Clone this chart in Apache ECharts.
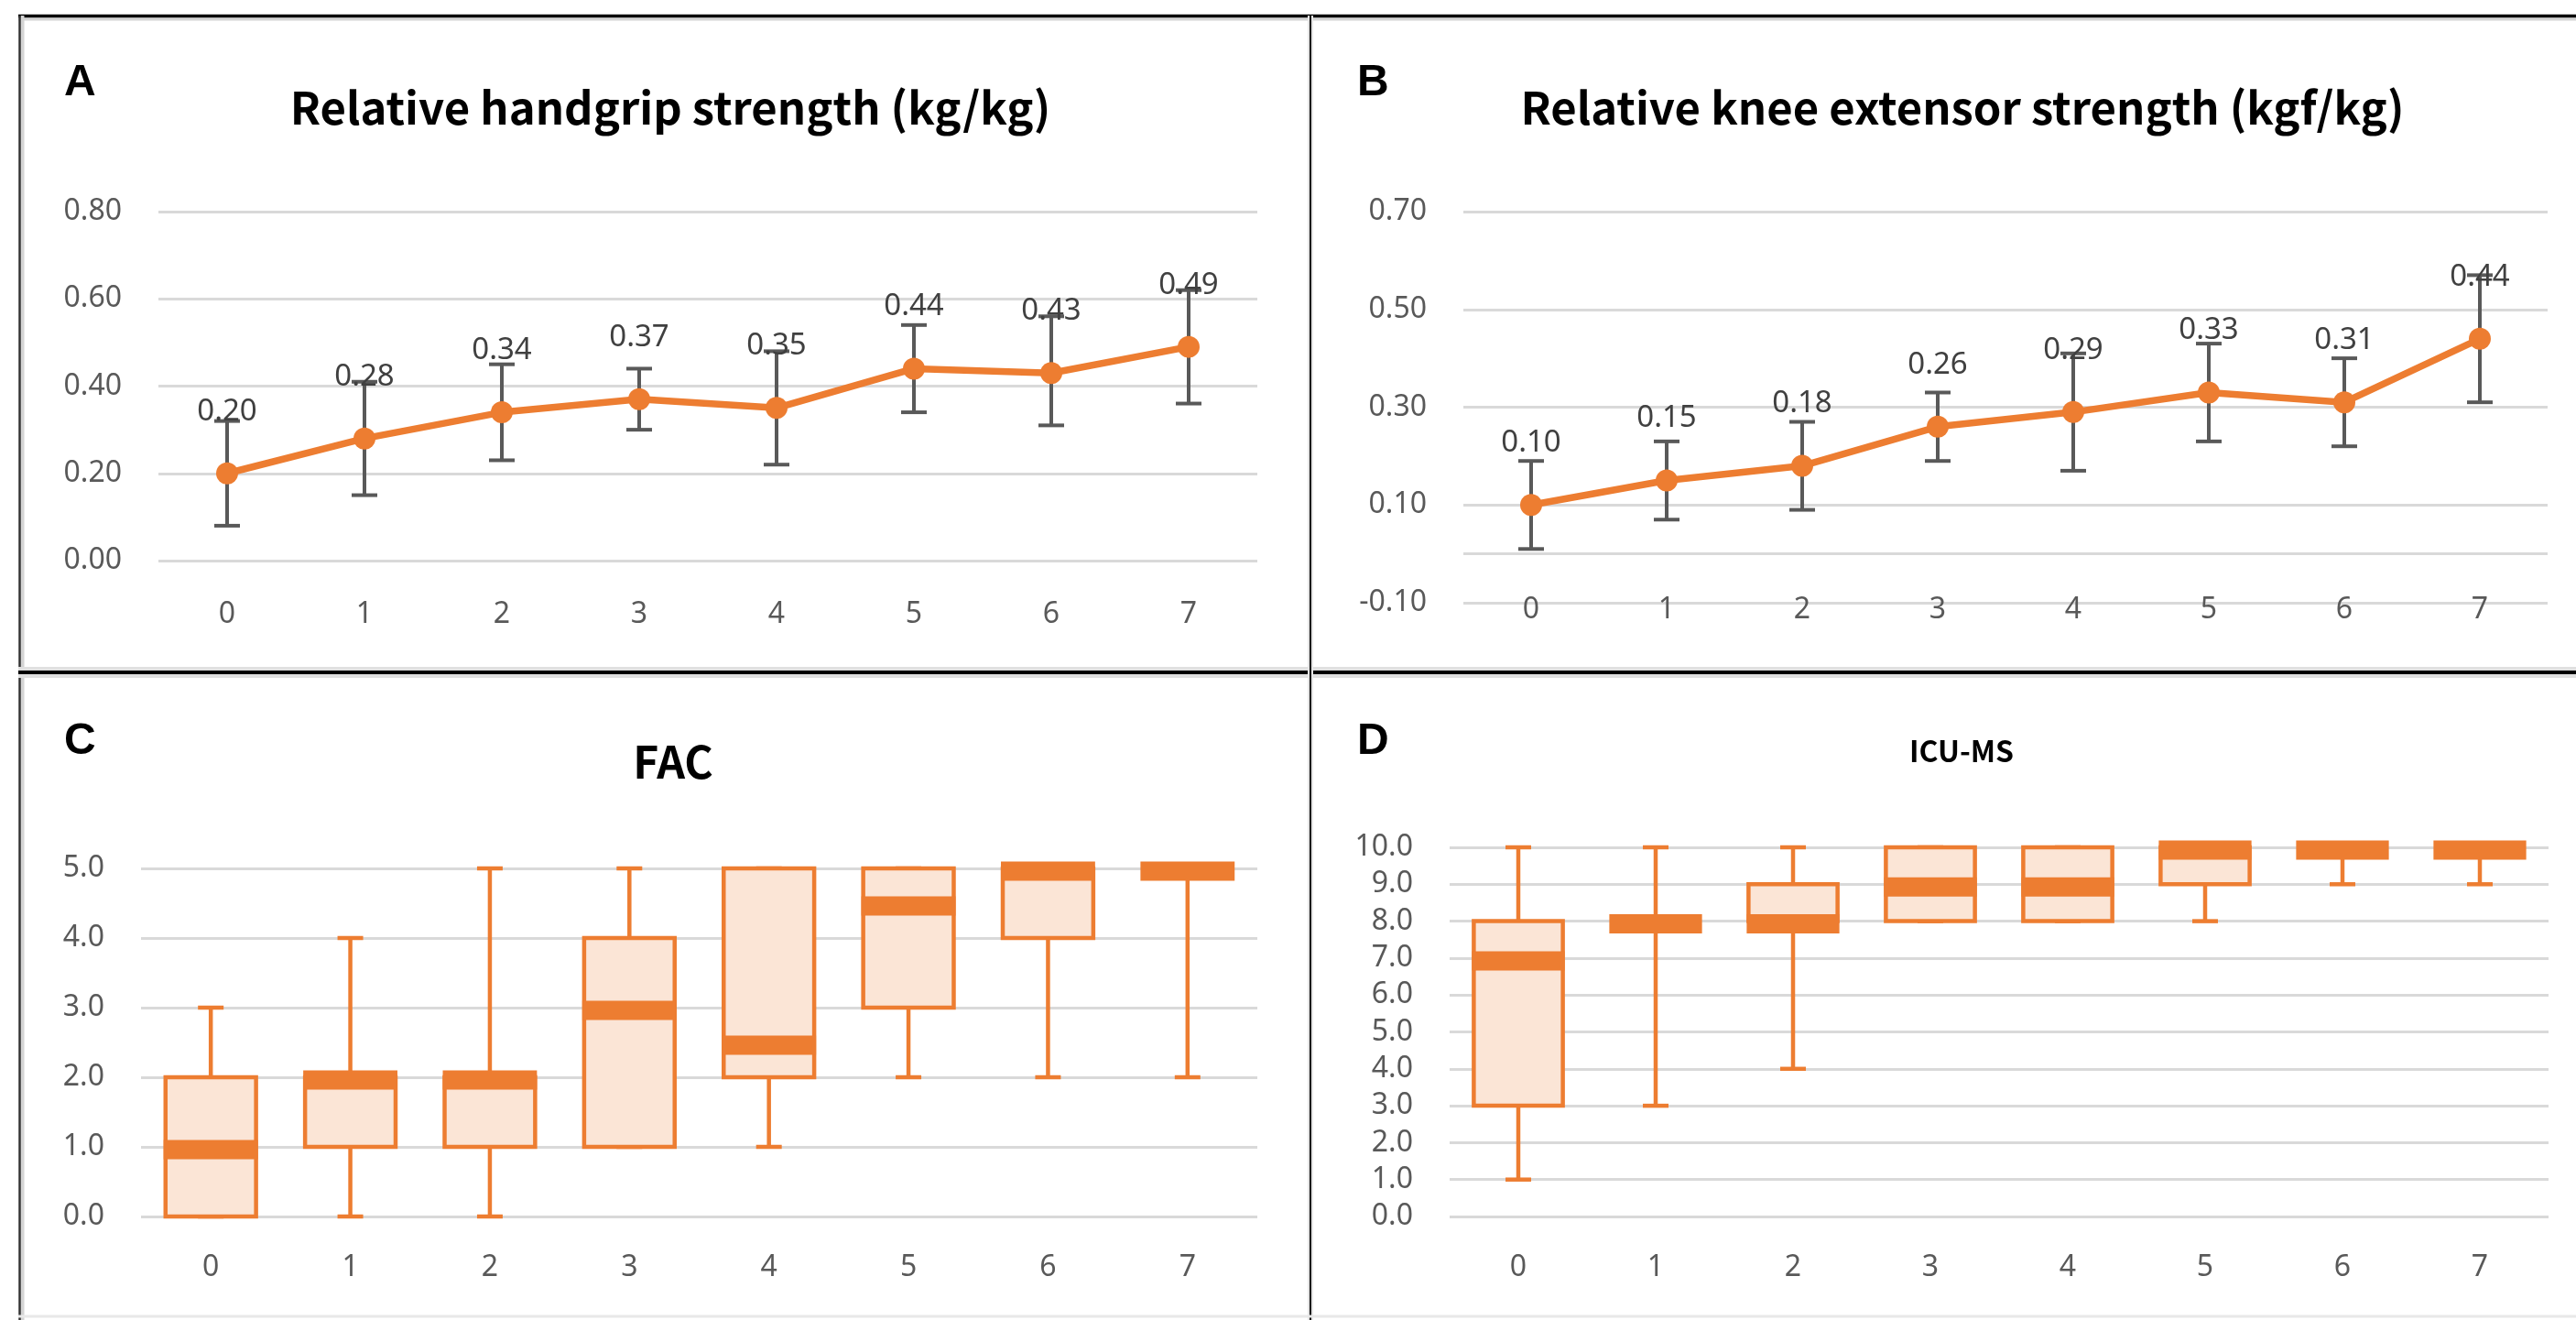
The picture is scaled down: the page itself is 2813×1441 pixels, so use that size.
<!DOCTYPE html>
<html>
<head>
<meta charset="utf-8">
<script src="https://cdn.jsdelivr.net/npm/echarts@6/dist/echarts.min.js"></script>
<style>
  html, body { margin: 0; padding: 0; background: #fff; }
  #chart { width: 2813px; height: 1441px; }
</style>
</head>
<body>
<div id="chart"></div>
<script>
// days after admission (shared category axis)
const days = ['0', '1', '2', '3', '4', '5', '6', '7'];

// A: relative handgrip strength, mean with SD bars
const gripMean = [0.20, 0.28, 0.34, 0.37, 0.35, 0.44, 0.43, 0.49];
const gripLow = [0.08, 0.15, 0.23, 0.30, 0.22, 0.34, 0.31, 0.36];
const gripHigh = [0.32, 0.41, 0.45, 0.44, 0.48, 0.54, 0.56, 0.62];

// B: relative knee extensor strength
const kneeMean = [0.10, 0.15, 0.18, 0.26, 0.29, 0.33, 0.31, 0.44];
const kneeLow = [0.01, 0.07, 0.09, 0.19, 0.17, 0.23, 0.22, 0.31];
const kneeHigh = [0.19, 0.23, 0.27, 0.33, 0.41, 0.43, 0.40, 0.57];

// C: FAC box plot
const facMin = [0, 0, 0, 1, 1, 2, 2, 2];
const facQ1 = [0, 1, 1, 1, 2, 3, 4, 5];
const facMed = [1, 2, 2, 3, 2.5, 4.5, 5, 5];
const facQ3 = [2, 2, 2, 4, 5, 5, 5, 5];
const facMax = [3, 4, 5, 5, 5, 5, 5, 5];

// D: ICU-MS box plot
const icuMin = [1, 3, 4, 8, 8, 8, 9, 9];
const icuQ1 = [3, 8, 8, 8, 8, 9, 10, 10];
const icuMed = [7, 8, 8, 9, 9, 10, 10, 10];
const icuQ3 = [8, 8, 9, 10, 10, 10, 10, 10];
const icuMax = [10, 10, 10, 10, 10, 10, 10, 10];

const ORANGE = '#ED7D31';
const PEACH = '#FBE5D6';
const GRID_GRAY = '#D9D9D9';
const TICK_FONT = 'Noto Sans';
const TITLE_FONT = 'Noto Sans CJK KR';

function errData(low, high) {
  return low.map((v, i) => [i, v, high[i]]);
}

function boxData(mn, q1, md, q3, mx) {
  return mn.map((v, i) => [i, v, q1[i], md[i], q3[i], mx[i]]);
}

function renderErr(params, api) {
  const top = api.coord([api.value(0), api.value(2)]);
  const bot = api.coord([api.value(0), api.value(1)]);
  const hw = 14;
  const st = { stroke: '#595959', lineWidth: 4 };
  return {
    type: 'group',
    children: [
      { type: 'line', shape: { x1: top[0], y1: top[1], x2: bot[0], y2: bot[1] }, style: st },
      { type: 'line', shape: { x1: top[0] - hw, y1: top[1], x2: top[0] + hw, y2: top[1] }, style: st },
      { type: 'line', shape: { x1: bot[0] - hw, y1: bot[1], x2: bot[0] + hw, y2: bot[1] }, style: st }
    ]
  };
}

function renderBox(params, api) {
  const i = api.value(0);
  const pMin = api.coord([i, api.value(1)]);
  const pQ1 = api.coord([i, api.value(2)]);
  const pMed = api.coord([i, api.value(3)]);
  const pQ3 = api.coord([i, api.value(4)]);
  const pMax = api.coord([i, api.value(5)]);
  const cx = pMed[0];
  const bw = api.size([1, 0])[0] * 0.675;
  const cap = 14;
  const ws = { stroke: ORANGE, lineWidth: 4.5 };
  return {
    type: 'group',
    children: [
      { type: 'line', shape: { x1: cx, y1: pQ3[1], x2: cx, y2: pMax[1] }, style: ws },
      { type: 'line', shape: { x1: cx, y1: pQ1[1], x2: cx, y2: pMin[1] }, style: ws },
      { type: 'line', shape: { x1: cx - cap, y1: pMax[1], x2: cx + cap, y2: pMax[1] }, style: ws },
      { type: 'line', shape: { x1: cx - cap, y1: pMin[1], x2: cx + cap, y2: pMin[1] }, style: ws },
      {
        type: 'rect',
        shape: { x: cx - bw / 2 + 2, y: pQ3[1], width: bw - 4, height: pQ1[1] - pQ3[1] },
        style: { fill: PEACH, stroke: ORANGE, lineWidth: 4.5 }
      },
      {
        type: 'rect',
        shape: { x: cx - bw / 2, y: pMed[1] - 7.5, width: bw, height: 21 },
        style: { fill: ORANGE }
      }
    ]
  };
}

function yAxisFor(idx, min, max, interval, digits) {
  return {
    type: 'value', gridIndex: idx, min: min, max: max, interval: interval,
    axisLine: { show: false }, axisTick: { show: false },
    axisLabel: {
      margin: 40, fontFamily: TICK_FONT, fontSize: 32, color: '#595959',
      formatter: v => v.toFixed(digits)
    },
    splitLine: { lineStyle: { color: GRID_GRAY, width: 3 } }
  };
}

function xAxisFor(idx, margin) {
  return {
    type: 'category', gridIndex: idx, data: days,
    axisLine: { show: false }, axisTick: { show: false },
    axisLabel: { margin: margin, fontFamily: TICK_FONT, fontSize: 32, color: '#595959' }
  };
}

function meanLine(idx, values) {
  return {
    type: 'line', xAxisIndex: idx, yAxisIndex: idx, data: values, z: 5,
    symbol: 'circle', symbolSize: 24,
    lineStyle: { color: ORANGE, width: 7.5 },
    itemStyle: { color: ORANGE },
    label: {
      show: true, position: 'top', distance: 39,
      fontFamily: TICK_FONT, fontSize: 33, color: '#404040',
      formatter: p => p.value.toFixed(2)
    }
  };
}

function titleText(x, y, text, size) {
  return {
    text: text, left: x, top: y, padding: 0,
    textAlign: 'center', textVerticalAlign: 'middle',
    textStyle: { fontFamily: TITLE_FONT, fontWeight: 'bold', fontSize: size, color: '#000' }
  };
}

function panelLetter(x, y, text) {
  return {
    type: 'text', left: x, top: y,
    style: { text: text, font: 'bold 48px "Liberation Sans"', fill: '#000' }
  };
}

function hline(y, x1, x2, w, c) {
  return { type: 'line', shape: { x1: x1, y1: y, x2: x2, y2: y }, style: { stroke: c, lineWidth: w }, z: 100 };
}
function vline(x, y1, y2, w, c) {
  return { type: 'line', shape: { x1: x, y1: y1, x2: x, y2: y2 }, style: { stroke: c, lineWidth: w }, z: 100 };
}

const chart = echarts.init(document.getElementById('chart'));
chart.setOption({
  backgroundColor: '#ffffff',
  animation: false,
  title: [
    titleText(732, 117, 'Relative handgrip strength (kg/kg)', 49),
    titleText(2143, 117, 'Relative knee extensor strength (kgf/kg)', 49),
    titleText(735, 832, 'FAC', 48),
    titleText(2142, 820, 'ICU-MS', 32)
  ],
  grid: [
    { left: 173, top: 231, width: 1200, height: 381, outerBoundsMode: 'none' },
    { left: 1598, top: 231, width: 1184, height: 427, outerBoundsMode: 'none' },
    { left: 154, top: 948, width: 1219, height: 380, outerBoundsMode: 'none' },
    { left: 1583, top: 925, width: 1200, height: 403, outerBoundsMode: 'none' }
  ],
  xAxis: [xAxisFor(0, 43), xAxisFor(1, -8), xAxisFor(2, 40), xAxisFor(3, 40)],
  yAxis: [
    yAxisFor(0, 0, 0.8, 0.2, 2),
    yAxisFor(1, -0.1, 0.7, 0.2, 2),
    yAxisFor(2, 0, 5, 1, 1),
    yAxisFor(3, 0, 10, 1, 1)
  ],
  series: [
    { type: 'custom', xAxisIndex: 0, yAxisIndex: 0, renderItem: renderErr, data: errData(gripLow, gripHigh), z: 3 },
    meanLine(0, gripMean),
    {
      type: 'custom', xAxisIndex: 1, yAxisIndex: 1, renderItem: renderErr, data: errData(kneeLow, kneeHigh), z: 3,
      markLine: {
        silent: true, symbol: 'none', label: { show: false },
        lineStyle: { color: GRID_GRAY, width: 3, type: 'solid' },
        data: [{ yAxis: 0 }]
      }
    },
    meanLine(1, kneeMean),
    { type: 'custom', xAxisIndex: 2, yAxisIndex: 2, renderItem: renderBox, data: boxData(facMin, facQ1, facMed, facQ3, facMax) },
    { type: 'custom', xAxisIndex: 3, yAxisIndex: 3, renderItem: renderBox, data: boxData(icuMin, icuQ1, icuMed, icuQ3, icuMax) }
  ],
  graphic: [
    panelLetter(70, 67, 'A'),
    panelLetter(1482, 67, 'B'),
    panelLetter(70, 786, 'C'),
    panelLetter(1482, 786, 'D'),
    // frame lines
    hline(21, 20, 2813, 3, '#d4d4d4'),
    hline(17.5, 20, 2813, 3.5, '#000'),
    vline(24.5, 17, 1441, 4, '#d4d4d4'),
    vline(21.5, 17, 1441, 2.5, '#333'),
    hline(734, 20, 2813, 12, '#e0e0e0'),
    hline(734, 20, 2813, 4, '#000'),
    vline(1431, 17, 1441, 6, '#e6e6e6'),
    vline(1431, 17, 1441, 2, '#111'),
    hline(1437, 20, 2813, 3, '#e8e8e8')
  ]
});
</script>
</body>
</html>
